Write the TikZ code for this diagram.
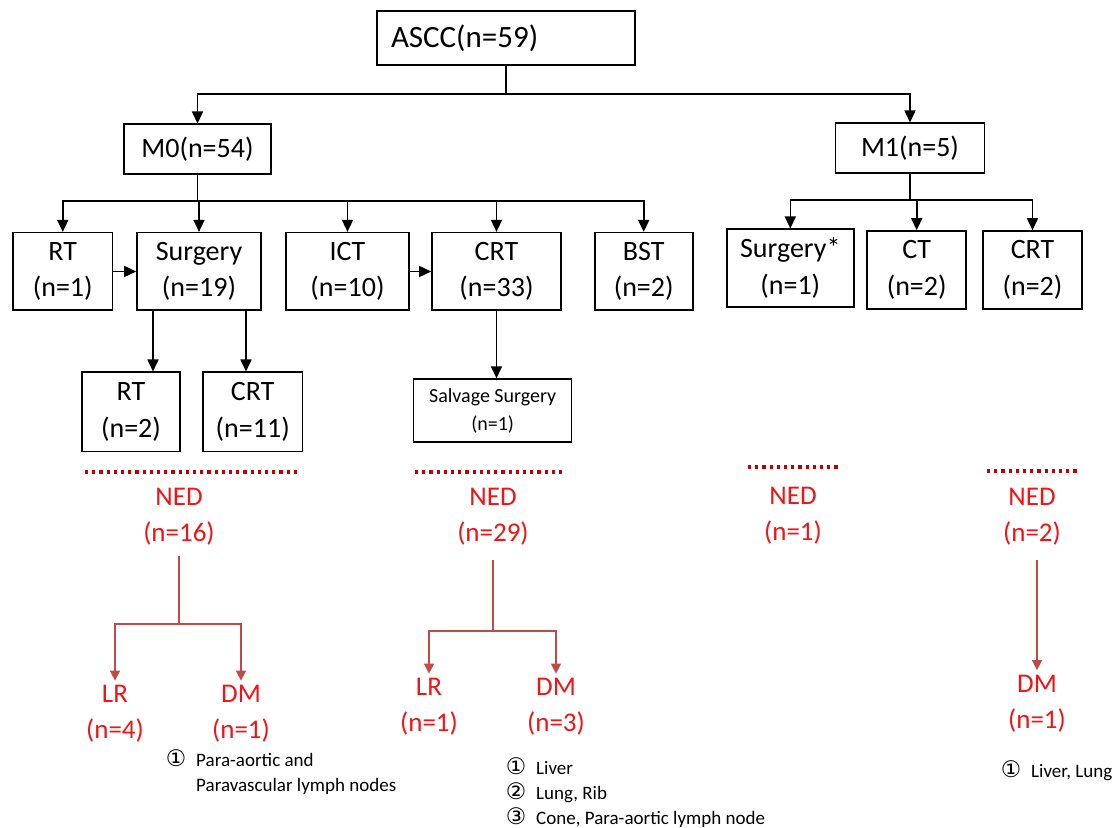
\documentclass[tikz,border=0pt]{standalone}
\usepackage{fontspec}
\setmainfont{Carlito}
\newfontfamily\circfont[Scale=1.2]{DejaVu Sans}
\usetikzlibrary{arrows.meta}
\definecolor{nedred}{RGB}{240,20,20}
\definecolor{dotred}{RGB}{192,0,0}
\definecolor{arrowred}{RGB}{190,75,72}

\begin{document}
\begin{tikzpicture}[x=0.5pt, y=-0.5pt, ->, >={Triangle[length=6pt,width=5.5pt]}, thick,
    box/.style={draw, align=center, inner sep=0pt, font=\fontsize{14}{18.3}\selectfont},
    result/.style={text=nedred, align=center, inner sep=2pt, font=\fontsize{13.5}{18}\selectfont},
    note/.style={inner sep=0pt, font=\fontsize{9.5}{12.5}\selectfont},
    rline/.style={draw=arrowred, line width=0.6pt, >={Triangle[length=5pt,width=5pt]}},
    sep/.style={-, draw=dotred, line width=1.6pt, dash pattern=on 1.6pt off 2pt}]
    \useasboundingbox (0,0) rectangle (1116,828);

    \node[box, minimum width=129pt, minimum height=27pt, text width=115pt, align=left, inner xsep=7pt, font=\fontsize{15.5}{19}\selectfont] (ASCC) at (506,38) {ASCC(n=59)};
    \node[box, minimum width=73.5pt, minimum height=25pt] (M0) at (197.5,149.3) {M0(n=54)};
    \node[box, minimum width=74.5pt, minimum height=25pt] (M1) at (910,148.3) {M1(n=5)};

    \node[box, minimum width=49.75pt, minimum height=38.8pt] (RTa) at (62.75,271.5) {RT\\(n=1)};
    \node[box, minimum width=62pt, minimum height=38.8pt] (SURa) at (199,271.5) {Surgery\\(n=19)};
    \node[box, minimum width=61.5pt, minimum height=38.8pt] (ICT) at (347.5,271.5) {ICT\\(n=10)};
    \node[box, minimum width=64.5pt, minimum height=38.8pt] (CRTa) at (496.5,271.5) {CRT\\(n=33)};
    \node[box, minimum width=49pt, minimum height=38.8pt] (BST) at (643.7,271.5) {BST\\(n=2)};
    \node[box, minimum width=63.5pt, minimum height=39pt] (SURb) at (790.3,268.3) {Surgery*\\(n=1)};
    \node[box, minimum width=49.5pt, minimum height=39pt] (CT) at (916.7,270) {CT\\(n=2)};
    \node[box, minimum width=49.5pt, minimum height=39pt] (CRTb) at (1032.5,270) {CRT\\(n=2)};

    \node[box, minimum width=49pt, minimum height=39.7pt] (RTb) at (131,412) {RT\\(n=2)};
    \node[box, minimum width=49.75pt, minimum height=39.7pt] (CRTc) at (252.75,412) {CRT\\(n=11)};
    \node[box, minimum width=79pt, minimum height=31.6pt, font=\fontsize{10}{13.8}\selectfont] (SALV) at (492.65,410.7) {Salvage Surgery\\(n=1)};

    \coordinate (s1) at (506,94.3);
    \coordinate (s2) at (197.5,201);
    \coordinate (s3) at (910,200);

    \draw[-] (ASCC) -- (s1);
    \draw (s1) -| (M0);
    \draw (s1) -| (M1);

    \draw[-] (M0) -- (s2);
    \draw (s2) -| (RTa);
    \draw (s2) -| (SURa);
    \draw (s2) -| (ICT);
    \draw (s2) -| (CRTa);
    \draw (s2) -| (BST);

    \draw[-] (M1) -- (s3);
    \draw (s3) -| (SURb);
    \draw (s3) -| (CT);
    \draw (s3) -| (CRTb);

    \draw (RTa) -- (SURa);
    \draw (ICT) -- (CRTa);

    \draw ([xshift=-23pt]SURa.south) -- ([xshift=-23pt]SURa.south |- RTb.north);
    \draw ([xshift=23.5pt]SURa.south) -- ([xshift=23.5pt]SURa.south |- CRTc.north);
    \draw (CRTa.south) -- (CRTa.south |- SALV.north);

    \draw[sep] (85,472) -- (300,472);
    \draw[sep] (415,472) -- (565,472);
    \draw[sep] (748,467) -- (839,467);
    \draw[sep] (987,471) -- (1078,471);

    \node[result] (NEDa) at (179,517) {NED\\(n=16)};
    \node[result] (NEDb) at (493,517) {NED\\(n=29)};
    \node[result] (NEDc) at (793,515.5) {NED\\(n=1)};
    \node[result] (NEDd) at (1032,516.5) {NED\\(n=2)};

    \node[result] (LRa) at (115,714) {LR\\(n=4)};
    \node[result] (DMa) at (241,714) {DM\\(n=1)};
    \node[result] (LRb) at (429,707) {LR\\(n=1)};
    \node[result] (DMb) at (556,707) {DM\\(n=3)};
    \node[result] (DMc) at (1037,703.5) {DM\\(n=1)};

    \coordinate (j1) at (179,624);
    \coordinate (j2) at (493,631);

    \draw[rline, -, shorten <=3pt] (NEDa) -- (j1);
    \draw[rline] (j1) -| (LRa);
    \draw[rline] (j1) -| (DMa);
    \draw[rline, -, shorten <=5pt] (NEDb) -- (j2);
    \draw[rline] (j2) -| (LRb);
    \draw[rline] (j2) -| (DMb);
    \draw[rline, shorten <=5pt] (NEDd.south -| DMc) -- (DMc);

    \node[note, anchor=west] (ANa) at (165,774.5) {\begin{tabular}{@{}l@{\hspace{5pt}}l@{}}{\circfont ①} & Para-aortic and\\ & Paravascular lymph nodes\end{tabular}};
    \node[note, anchor=west] (ANb) at (505,795) {\begin{tabular}{@{}l@{\hspace{5pt}}l@{}}{\circfont ①} & Liver\\ {\circfont ②} & Lung, Rib\\ {\circfont ③} & Cone, Para-aortic lymph node\end{tabular}};
    \node[note, anchor=west] (ANc) at (1000,773) {\begin{tabular}{@{}l@{\hspace{5pt}}l@{}}{\circfont ①} & Liver, Lung\end{tabular}};
\end{tikzpicture}
\end{document}
